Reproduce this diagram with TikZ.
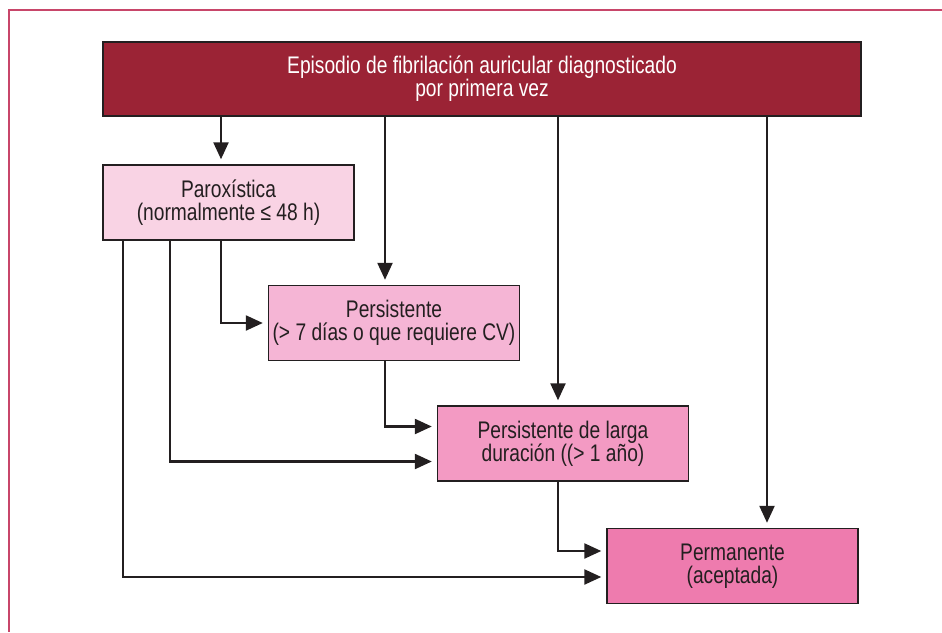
\documentclass[tikz,border=0pt]{standalone}
\usepackage{fontspec}
\setmainfont{Liberation Sans}[FakeStretch=0.8]
\usetikzlibrary{arrows.meta}
\definecolor{framec}{HTML}{C8466A}
\definecolor{topc}{HTML}{9B2335}
\definecolor{paroxc}{HTML}{F9D3E4}
\definecolor{persc}{HTML}{F5B5D5}
\definecolor{largac}{HTML}{F39AC3}
\definecolor{permc}{HTML}{EE7BAE}
\definecolor{inkc}{HTML}{231F20}
\begin{document}
\begin{tikzpicture}[x=1pt,y=-1pt,
        box/.style={draw=inkc,line width=1.4pt,text=inkc,align=center,inner sep=0pt,
          minimum width=251pt,minimum height=75pt,font=\fontsize{24}{23}\selectfont},
        arr/.style={draw=inkc,line width=2.3pt,-{Triangle[length=17pt,width=15pt]},shorten >=5pt}]
        \useasboundingbox (0,0) rectangle (942,632);
        \draw [framec, line width=1.4pt] (942,10) -- (9,10) -- (9,632);
        \node [box, fill=topc, text=white, minimum width=758pt, minimum height=74pt] (first) at (482,79)
          {Episodio de fibrilación auricular diagnosticado\\por primera vez};
        \node [box, fill=paroxc] (parox) at (228.5,202.5) {Paroxística\\(normalmente ≤ 48 h)};
        \node [box, fill=persc] (pers) at (394,323) {Persistente\\(> 7 días o que requiere CV)};
        \node [box, fill=largac] (larga) at (563,443.5) {Persistente de larga\\duración ((> 1 año)};
        \node [box, fill=permc] (perm) at (732.5,566) {Permanente\\(aceptada)};
        \coordinate (ca) at (123,0);
        \coordinate (cb) at (170,0);
        \coordinate (cc) at (221,0);
        \coordinate (cd) at (385,0);
        \coordinate (ce) at (558,0);
        \coordinate (cf) at (767,0);
        \draw [arr] (cc |- first.south) -- (cc |- parox.north);
        \draw [arr] (cd |- first.south) -- (cd |- pers.north);
        \draw [arr] (ce |- first.south) -- (ce |- larga.north);
        \draw [arr] (cf |- first.south) -- (cf |- perm.north);
        \draw [arr] (cc |- parox.south) |- (pers.west);
        \draw [arr] (cb |- parox.south) |- ([yshift=-18pt]larga.west);
        \draw [arr] (ca |- parox.south) |- ([yshift=-11pt]perm.west);
        \draw [arr] (cd |- pers.south) |- ([yshift=17pt]larga.west);
        \draw [arr] (ce |- larga.south) |- ([yshift=15pt]perm.west);
\end{tikzpicture}
\end{document}
